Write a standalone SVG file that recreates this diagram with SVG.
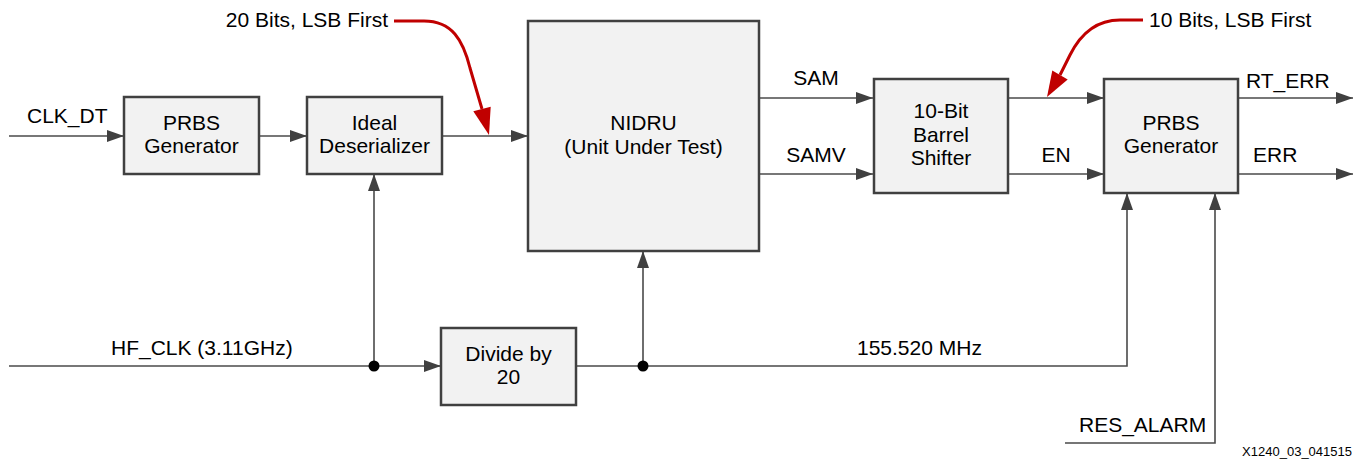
<svg xmlns="http://www.w3.org/2000/svg" width="1356" height="460" viewBox="0 0 1356 460">
<style>
.box{fill:#f2f2f2;stroke:#404040;stroke-width:2.5}
.ln{fill:none;stroke:#4a4a4a;stroke-width:1.6}
.red{fill:none;stroke:#c00000;stroke-width:3}
text{font-family:"Liberation Sans",Arial,sans-serif;font-size:21px;fill:#000}
.c{text-anchor:middle}
.small{font-size:13px}
</style>
<defs>
<marker id="arr" markerUnits="userSpaceOnUse" markerWidth="17" markerHeight="12" refX="17" refY="6" orient="auto">
<path d="M0,0 L17,6 L0,12 z" fill="#404040"/>
</marker>
</defs>
<rect width="1356" height="460" fill="#fff"/>
<g id="connectors">
<path class="ln" d="M9,136 H124" marker-end="url(#arr)"/>
<path class="ln" d="M259,136 H307" marker-end="url(#arr)"/>
<path class="ln" d="M442,136 H528" marker-end="url(#arr)"/>
<path class="ln" d="M759,98 H873" marker-end="url(#arr)"/>
<path class="ln" d="M759,174 H873" marker-end="url(#arr)"/>
<path class="ln" d="M1008,98 H1104" marker-end="url(#arr)"/>
<path class="ln" d="M1008,174 H1104" marker-end="url(#arr)"/>
<path class="ln" d="M1238,98 H1353" marker-end="url(#arr)"/>
<path class="ln" d="M1238,174 H1353" marker-end="url(#arr)"/>
<path class="ln" d="M9,366 H441" marker-end="url(#arr)"/>
<path class="ln" d="M374,366 V174" marker-end="url(#arr)"/>
<path class="ln" d="M576,366 H1127 V193" marker-end="url(#arr)"/>
<path class="ln" d="M643,366 V251" marker-end="url(#arr)"/>
<path class="ln" d="M1065,443 H1215 V193" marker-end="url(#arr)"/>
<circle cx="374" cy="366" r="5.5" fill="#000"/>
<circle cx="643" cy="366" r="5.5" fill="#000"/>
<text x="27" y="123">CLK_DT</text>
<text x="111" y="355">HF_CLK (3.11GHz)</text>
<text x="857" y="355">155.520 MHz</text>
<text x="1079" y="432">RES_ALARM</text>
<text class="c" x="816" y="85">SAM</text>
<text class="c" x="816" y="162">SAMV</text>
<text class="c" x="1056" y="162">EN</text>
<text x="1246" y="88">RT_ERR</text>
<text x="1253" y="162">ERR</text>
</g>
<g id="annotation-20bits">
<path class="red" d="M394,21 H424 C452,21 463,40 470,68 L482,109"/>
<polygon points="489,135 490.7,106.7 473.3,111.3" fill="#c00000"/>
<text x="388" y="27" text-anchor="end">20 Bits, LSB First</text>
</g>
<g id="annotation-10bits">
<path class="red" d="M1143,20 H1120 C1095,20 1080,35 1070,55 L1060,75"/>
<polygon points="1047,97 1067.7,79.6 1052.3,70.4" fill="#c00000"/>
<text x="1149" y="27">10 Bits, LSB First</text>
</g>
<g id="prbs-gen-1">
<rect class="box" x="124" y="97" width="135" height="77"/>
<text class="c" x="191.5" y="130">PRBS</text>
<text class="c" x="191.5" y="153">Generator</text>
</g>
<g id="ideal-deserializer">
<rect class="box" x="307" y="97" width="135" height="77"/>
<text class="c" x="374.5" y="130">Ideal</text>
<text class="c" x="374.5" y="153">Deserializer</text>
</g>
<g id="nidru">
<rect class="box" x="528" y="21" width="231" height="230"/>
<text class="c" x="643.5" y="130">NIDRU</text>
<text class="c" x="643.5" y="154">(Unit Under Test)</text>
</g>
<g id="barrel-shifter">
<rect class="box" x="874" y="79" width="134" height="114"/>
<text class="c" x="941" y="118">10-Bit</text>
<text class="c" x="941" y="141.5">Barrel</text>
<text class="c" x="941" y="165">Shifter</text>
</g>
<g id="prbs-gen-2">
<rect class="box" x="1104" y="79" width="134" height="114"/>
<text class="c" x="1171" y="129.5">PRBS</text>
<text class="c" x="1171" y="153">Generator</text>
</g>
<g id="divide-by-20">
<rect class="box" x="441" y="328" width="135" height="77"/>
<text class="c" x="508.5" y="360.5">Divide by</text>
<text class="c" x="508.5" y="383.5">20</text>
</g>
<text class="small" x="1352" y="456" text-anchor="end">X1240_03_041515</text>
</svg>
